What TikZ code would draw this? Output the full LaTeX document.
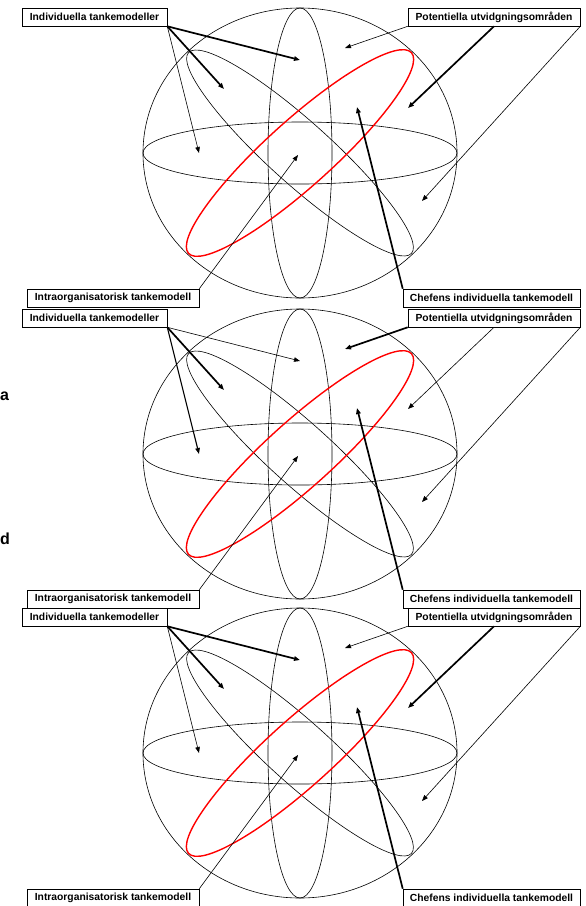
\documentclass[tikz,border=0pt]{standalone}
\usepackage{fontspec}
\setmainfont{Liberation Sans}
\usepackage{tikz}
\usetikzlibrary{arrows.meta}

\begin{document}
\begin{tikzpicture}[x=1pt, y=-1pt, >={Triangle[length=6pt,width=4.5pt]},
  lbl/.style={draw, line width=0.6pt, fill=white, inner sep=0pt, minimum height=18pt,
              font=\fontsize{10.3}{12}\selectfont\bfseries},
  shp/.style={line width=0.6pt},
  loop/.style={draw=red, line width=1.4pt},
  thn/.style={->, line width=0.6pt},
  mid/.style={->, line width=1.1pt},
  thk/.style={->, line width=1.7pt},
  cut/.style={font=\fontsize{16}{18}\selectfont\bfseries, inner sep=0pt}]

  \useasboundingbox (0,0) rectangle (586,906);

  % --- stray letters at the left margin ---
  \node[cut, anchor=base west] (cuta) at (0,400) {a};
  \node[cut, anchor=base west] (cutd) at (0,544) {d};

  \foreach \p/\dy/\wA/\wB/\wC/\wD/\wE in {1/0/thk/thk/thn/thn/thk, 2/301/thn/thk/mid/thk/thn, 3/600/thk/thk/thn/thn/thk}{
  \begin{scope}[yshift={-\dy pt}]
    % --- sphere ---
    \coordinate (c\p) at (300,153);
    \draw[shp] (c\p) ellipse [x radius=157, y radius=145];
    \draw[shp] (c\p) ellipse [x radius=32, y radius=145];
    \draw[shp] (c\p) ellipse [x radius=157, y radius=31];
    \draw[shp, rotate around={-42:(c\p)}] (c\p) ellipse [x radius=150, y radius=31];
    \draw[loop, rotate around={42:(c\p)}] (c\p) ellipse [x radius=150, y radius=33];

    % --- labels ---
    \node[lbl, minimum width=145pt] (ind\p)   at (94.5,17) {Individuella tankemodeller};
    \node[lbl, minimum width=172pt] (pot\p)   at (494,17)  {Potentiella utvidgningsområden};
    \node[lbl, minimum width=172pt] (intra\p) at (113,298) {Intraorganisatorisk tankemodell};
    \node[lbl, minimum width=177pt] (chef\p)  at (491.5,298) {Chefens individuella tankemodell};

    % --- arrow ends ---
    \coordinate (ta\p) at (300,60);
    \coordinate (tb\p) at (224,89);
    \coordinate (tc\p) at (199,153);
    \coordinate (pa\p) at (345,48);
    \coordinate (pb\p) at (408,108);
    \coordinate (pc\p) at (422,201);
    \coordinate (ch\p) at (357,107);
    \coordinate (io\p) at (298,155);

    \draw[\wA] (ind\p.south east) -- (ta\p);
    \draw[\wB] (ind\p.south east) -- (tb\p);
    \draw[\wC] (ind\p.south east) -- (tc\p);
    \draw[\wD] (pot\p.south west) -- (pa\p);
    \draw[\wE] (pot\p.south) -- (pb\p);
    \draw[thn] (pot\p.south east) -- (pc\p);
    \draw[thk] (chef\p.north west) -- (ch\p);
    \draw[thn] (intra\p.north east) -- (io\p);
  \end{scope}}
\end{tikzpicture}
\end{document}
